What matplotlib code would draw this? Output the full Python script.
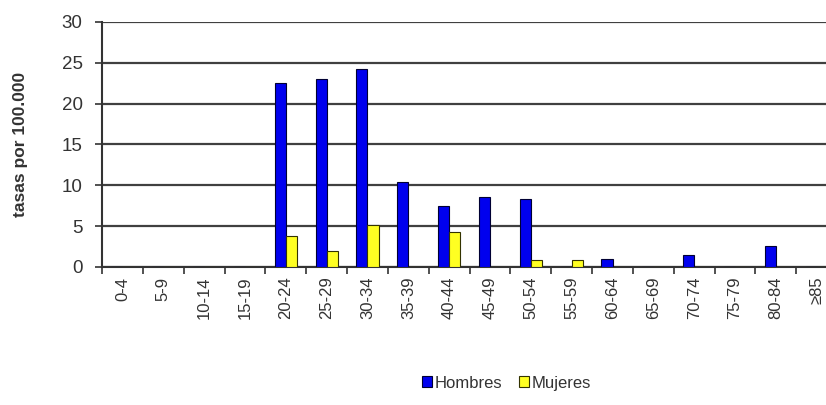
import numpy as np
import matplotlib
matplotlib.use("Agg")
from matplotlib import pyplot as plt

# Age groups and rates per 100,000
age_groups = ["0-4", "5-9", "10-14", "15-19", "20-24", "25-29", "30-34", "35-39",
              "40-44", "45-49", "50-54", "55-59", "60-64", "65-69", "70-74",
              "75-79", "80-84", "\u226585"]
hombres = [0, 0, 0, 0, 22.5, 23.0, 24.2, 10.4, 7.5, 8.5, 8.3, 0, 1.0, 0, 1.4, 0, 2.6, 0]
mujeres = [0, 0, 0, 0, 3.8, 1.9, 5.1, 0, 4.3, 0, 0.9, 0.9, 0, 0, 0, 0, 0, 0]
y_ticks = [0, 5, 10, 15, 20, 25, 30]

plt.rcParams['font.family'] = ['Liberation Sans', 'DejaVu Sans']

fig = plt.figure(figsize=(8.26, 4.05), dpi=100)
ax = fig.add_axes([0.1235, 0.341, 0.89, 0.605])

x = np.arange(len(age_groups))
w = 0.27
ax.bar(x - w / 2, hombres, w, color="#0000ee", edgecolor="#000033", linewidth=0.8,
       label="Hombres", zorder=3)
ax.bar(x + w / 2, mujeres, w, color="#ffff22", edgecolor="#333300", linewidth=0.8,
       label="Mujeres", zorder=3)

ax.set_xlim(-0.5, len(age_groups) - 0.5)
ax.set_ylim(0, 30)
ax.set_yticks(y_ticks)
ax.yaxis.grid(True, color="#404040", linewidth=1.6, zorder=0)

ax.set_xticks(x)
ax.set_xticklabels(age_groups, rotation=90, fontsize=12, color="#333333")
ax.tick_params(axis="x", which="major", length=0, pad=7)
ax.set_xticks(np.arange(-0.5, len(age_groups), 1), minor=True)
ax.tick_params(axis="x", which="minor", length=5, width=1.2, color="#333333")
ax.tick_params(axis="y", length=5, width=1.2, color="#333333", labelsize=13.5,
               labelcolor="#333333", pad=9)

for side in ["top", "right"]:
    ax.spines[side].set_visible(False)
ax.spines["left"].set_linewidth(1.5)
ax.spines["left"].set_color("#333333")
ax.spines["bottom"].set_linewidth(1.5)
ax.spines["bottom"].set_color("#333333")

ax.set_ylabel("tasas por 100.000", fontsize=12.5, fontweight="bold", color="#333333",
              labelpad=24)

fig.legend(loc="center", bbox_to_anchor=(0.613, 0.054), ncol=2, frameon=False,
           fontsize=12, handlelength=0.6, handleheight=0.6, handletextpad=0.15,
           columnspacing=1.0, labelcolor="#333333")

fig.savefig("out.png", dpi=100)
